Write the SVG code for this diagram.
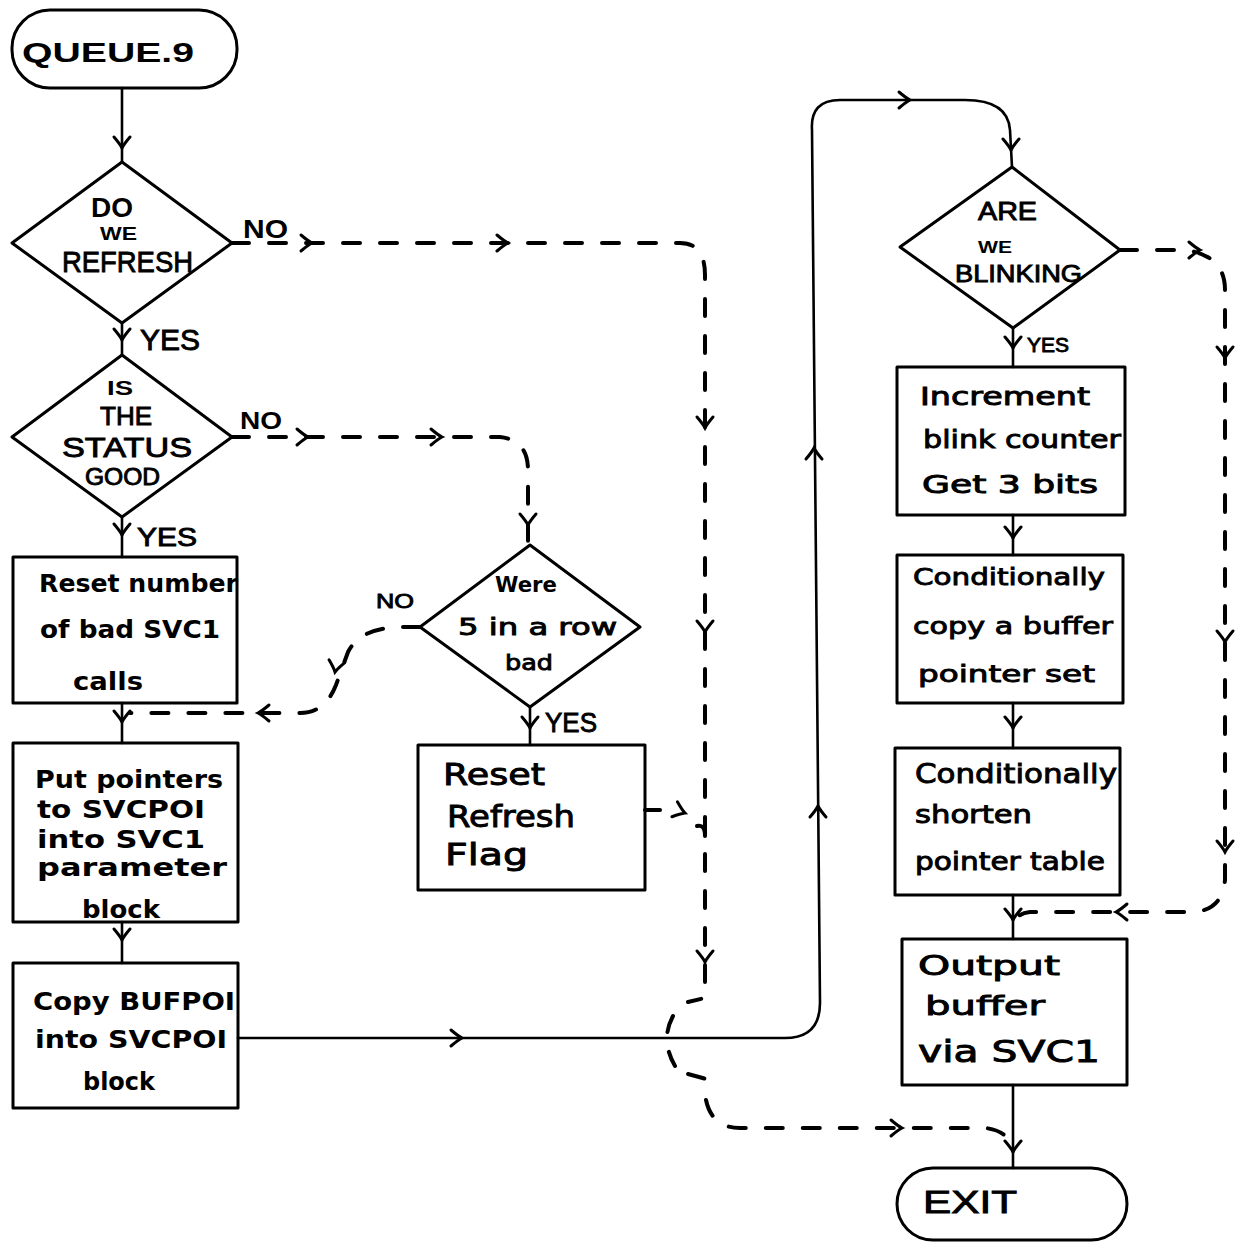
<svg xmlns="http://www.w3.org/2000/svg" xmlns:xlink="http://www.w3.org/1999/xlink" width="1238" height="1250" viewBox="0 0 1238 1250">
<style>
.shape{fill:none;stroke:#000;stroke-width:3;stroke-linejoin:round}
.solid{fill:none;stroke:#000;stroke-width:2.6;stroke-linecap:round}
.dash{fill:none;stroke:#000;stroke-width:4;stroke-dasharray:17 20;stroke-linecap:round}
.t{font-family:"Liberation Sans","DejaVu Sans",sans-serif;font-weight:bold;fill:#000}
.n{font-family:"Liberation Sans","DejaVu Sans",sans-serif;font-weight:normal;fill:#000;stroke:#000;stroke-width:0.9}
.h{font-family:"DejaVu Sans","Liberation Sans",sans-serif;font-weight:bold;fill:#000}
.hn{font-family:"DejaVu Sans","Liberation Sans",sans-serif;font-weight:normal;fill:#000;stroke:#000;stroke-width:0.9}
</style>
<defs>
<path id="ah" d="M-11,-8 Q-4,-2 0,0 Q-4,2 -11,8" fill="none" stroke="#000" stroke-width="3" stroke-linecap="round"/>
</defs>
<rect width="1238" height="1250" fill="#fff"/>

<g id="connectors">
  <!-- solid -->
  <path class="solid" d="M122,88 L122,162"/>
  <path class="solid" d="M122,323 L122,355"/>
  <path class="solid" d="M122,517 L122,557"/>
  <path class="solid" d="M122,703 L122,743"/>
  <path class="solid" d="M122,922 L122,963"/>
  <path class="solid" d="M238,1038 L785,1038 Q820,1038 820,1003 L812,130 Q810,100 840,100 L965,100 Q1008,100 1010,130 L1012,167"/>
  <path class="solid" d="M530,707 L530,745"/>
  <path class="solid" d="M1013,328 L1013,367"/>
  <path class="solid" d="M1013,515 L1013,555"/>
  <path class="solid" d="M1013,703 L1013,748"/>
  <path class="solid" d="M1013,895 L1013,939"/>
  <path class="solid" d="M1013,1085 L1013,1168"/>
  <!-- dashed -->
  <path class="dash" d="M232,243 L680,243 Q705,243 705,275 L705,998 L688,1002"/>
  <path class="dash" d="M673,1016 Q660,1040 675,1066"/>
  <path class="dash" stroke-dasharray="none" d="M688,1074 L706,1079 L706,1093"/>
  <path class="dash" d="M706,1100 Q712,1128 740,1128 L985,1128 Q1005,1130 1012,1145"/>
  <path class="dash" d="M232,437 L500,437 Q528,440 528,470 L528,543"/>
  <path class="dash" d="M420,627 L400,627 Q360,628 348,652 L336,685 Q325,713 300,713 L130,713"/>
  <path class="dash" stroke-dasharray="none" d="M645,810 L660,810"/>
  <path class="dash" stroke-dasharray="none" d="M697,826 Q705,824 705,836"/>
  <path class="dash" d="M1120,250 L1185,250 Q1225,255 1225,290 L1225,880 Q1222,912 1190,912 L1030,912 Q1018,913 1014,922"/>
  <!-- arrowheads -->
  <use xlink:href="#ah" transform="translate(122,148) rotate(90)"/>
  <use xlink:href="#ah" transform="translate(122,340) rotate(90)"/>
  <use xlink:href="#ah" transform="translate(122,535) rotate(90)"/>
  <use xlink:href="#ah" transform="translate(122,722) rotate(90)"/>
  <use xlink:href="#ah" transform="translate(122,940) rotate(90)"/>
  <use xlink:href="#ah" transform="translate(462,1038)"/>
  <use xlink:href="#ah" transform="translate(818,806) rotate(-90)"/>
  <use xlink:href="#ah" transform="translate(814,448) rotate(-90)"/>
  <use xlink:href="#ah" transform="translate(910,100)"/>
  <use xlink:href="#ah" transform="translate(1011,150) rotate(90)"/>
  <use xlink:href="#ah" transform="translate(530,728) rotate(90)"/>
  <use xlink:href="#ah" transform="translate(1013,348) rotate(90)"/>
  <use xlink:href="#ah" transform="translate(1013,538) rotate(90)"/>
  <use xlink:href="#ah" transform="translate(1013,728) rotate(90)"/>
  <use xlink:href="#ah" transform="translate(1013,920) rotate(90)"/>
  <use xlink:href="#ah" transform="translate(1013,1152) rotate(90)"/>
  <use xlink:href="#ah" transform="translate(312,243)"/>
  <use xlink:href="#ah" transform="translate(508,243)"/>
  <use xlink:href="#ah" transform="translate(705,428) rotate(90)"/>
  <use xlink:href="#ah" transform="translate(705,632) rotate(90)"/>
  <use xlink:href="#ah" transform="translate(705,962) rotate(90)"/>
  <use xlink:href="#ah" transform="translate(902,1128)"/>
  <use xlink:href="#ah" transform="translate(308,437)"/>
  <use xlink:href="#ah" transform="translate(442,437)"/>
  <use xlink:href="#ah" transform="translate(528,525) rotate(90)"/>
  <use xlink:href="#ah" transform="translate(335,672) rotate(100)"/>
  <use xlink:href="#ah" transform="translate(258,713) rotate(180)"/>
  <use xlink:href="#ah" transform="translate(685,813) rotate(20)"/>
  <use xlink:href="#ah" transform="translate(1200,250)"/>
  <use xlink:href="#ah" transform="translate(1225,358) rotate(90)"/>
  <use xlink:href="#ah" transform="translate(1225,642) rotate(90)"/>
  <use xlink:href="#ah" transform="translate(1225,852) rotate(90)"/>
  <use xlink:href="#ah" transform="translate(1116,912) rotate(180)"/>
  <!-- branch labels -->
  <text class="t" x="243" y="238" font-size="26" textLength="45" lengthAdjust="spacingAndGlyphs">NO</text>
  <text class="n" x="140" y="350" font-size="30" textLength="60" lengthAdjust="spacingAndGlyphs">YES</text>
  <text class="t" x="240" y="429" font-size="24" textLength="42" lengthAdjust="spacingAndGlyphs">NO</text>
  <text class="n" x="137" y="546" font-size="26" textLength="60" lengthAdjust="spacingAndGlyphs">YES</text>
  <text class="n" x="376" y="608" font-size="21" textLength="38" lengthAdjust="spacingAndGlyphs">NO</text>
  <text class="n" x="545" y="732" font-size="28" textLength="52" lengthAdjust="spacingAndGlyphs">YES</text>
  <text class="n" x="1027" y="352" font-size="21" textLength="42" lengthAdjust="spacingAndGlyphs">YES</text>
</g>

<g id="start">
  <rect class="shape" x="12" y="10" width="225" height="78" rx="38"/>
  <text class="t" x="22" y="62" font-size="27" textLength="172" lengthAdjust="spacingAndGlyphs">QUEUE.9</text>
</g>

<g id="d_refresh">
  <polygon class="shape" points="122,162 232,243 122,323 12,243"/>
  <text class="t" x="91" y="217" font-size="27" textLength="42" lengthAdjust="spacingAndGlyphs">DO</text>
  <text class="t" x="100" y="240" font-size="18" textLength="37" lengthAdjust="spacingAndGlyphs">WE</text>
  <text class="n" x="62" y="272" font-size="30" textLength="131" lengthAdjust="spacingAndGlyphs">REFRESH</text>
</g>

<g id="d_status">
  <polygon class="shape" points="122,355 232,437 122,517 12,437"/>
  <text class="t" x="107" y="395" font-size="21" textLength="26" lengthAdjust="spacingAndGlyphs">IS</text>
  <text class="n" x="100" y="425" font-size="25" textLength="52" lengthAdjust="spacingAndGlyphs">THE</text>
  <text class="n" x="62" y="457" font-size="28" textLength="130" lengthAdjust="spacingAndGlyphs">STATUS</text>
  <text class="n" x="85" y="485" font-size="23" textLength="75" lengthAdjust="spacingAndGlyphs">GOOD</text>
</g>

<g id="b_reset_num">
  <rect class="shape" x="13" y="557" width="224" height="146"/>
  <text class="h" x="39" y="592" font-size="24" textLength="199" lengthAdjust="spacingAndGlyphs">Reset number</text>
  <text class="h" x="40" y="638" font-size="24" textLength="180" lengthAdjust="spacingAndGlyphs">of bad SVC1</text>
  <text class="h" x="73" y="690" font-size="24" textLength="70" lengthAdjust="spacingAndGlyphs">calls</text>
</g>

<g id="b_put">
  <rect class="shape" x="13" y="743" width="225" height="179"/>
  <text class="h" x="35" y="788" font-size="24" textLength="188" lengthAdjust="spacingAndGlyphs">Put pointers</text>
  <text class="h" x="37" y="818" font-size="24" textLength="168" lengthAdjust="spacingAndGlyphs">to SVCPOI</text>
  <text class="h" x="37" y="848" font-size="24" textLength="168" lengthAdjust="spacingAndGlyphs">into SVC1</text>
  <text class="h" x="37" y="876" font-size="24" textLength="190" lengthAdjust="spacingAndGlyphs">parameter</text>
  <text class="h" x="82" y="918" font-size="24" textLength="78" lengthAdjust="spacingAndGlyphs">block</text>
</g>

<g id="b_copy">
  <rect class="shape" x="13" y="963" width="225" height="145"/>
  <text class="h" x="33" y="1010" font-size="24" textLength="202" lengthAdjust="spacingAndGlyphs">Copy BUFPOI</text>
  <text class="h" x="35" y="1048" font-size="24" textLength="192" lengthAdjust="spacingAndGlyphs">into SVCPOI</text>
  <text class="h" x="83" y="1090" font-size="24" textLength="72" lengthAdjust="spacingAndGlyphs">block</text>
</g>

<g id="d_five">
  <polygon class="shape" points="530,545 640,627 530,707 420,627"/>
  <text class="h" x="495" y="592" font-size="21" textLength="62" lengthAdjust="spacingAndGlyphs">Were</text>
  <text class="hn" x="458" y="635" font-size="23" textLength="159" lengthAdjust="spacingAndGlyphs">5 in a row</text>
  <text class="hn" x="505" y="670" font-size="22" textLength="48" lengthAdjust="spacingAndGlyphs">bad</text>
</g>

<g id="b_reset_flag">
  <rect class="shape" x="418" y="745" width="227" height="145"/>
  <text class="hn" x="443" y="785" font-size="30" textLength="102" lengthAdjust="spacingAndGlyphs">Reset</text>
  <text class="hn" x="447" y="827" font-size="30" textLength="128" lengthAdjust="spacingAndGlyphs">Refresh</text>
  <text class="hn" x="445" y="865" font-size="30" textLength="83" lengthAdjust="spacingAndGlyphs">Flag</text>
</g>

<g id="d_blink">
  <polygon class="shape" points="1012,167 1120,250 1013,328 900,247"/>
  <text class="n" x="978" y="220" font-size="25" textLength="59" lengthAdjust="spacingAndGlyphs">ARE</text>
  <text class="t" x="978" y="253" font-size="16" textLength="34" lengthAdjust="spacingAndGlyphs">WE</text>
  <text class="n" x="955" y="282" font-size="24" textLength="127" lengthAdjust="spacingAndGlyphs">BLINKING</text>
</g>

<g id="b_increment">
  <rect class="shape" x="897" y="367" width="228" height="148"/>
  <text class="hn" x="920" y="405" font-size="24" textLength="170" lengthAdjust="spacingAndGlyphs">Increment</text>
  <text class="hn" x="923" y="448" font-size="24" textLength="198" lengthAdjust="spacingAndGlyphs">blink counter</text>
  <text class="hn" x="922" y="493" font-size="24" textLength="176" lengthAdjust="spacingAndGlyphs">Get  3 bits</text>
</g>

<g id="b_copy_buf">
  <rect class="shape" x="897" y="555" width="226" height="148"/>
  <text class="hn" x="913" y="585" font-size="23" textLength="192" lengthAdjust="spacingAndGlyphs">Conditionally</text>
  <text class="hn" x="913" y="634" font-size="23" textLength="200" lengthAdjust="spacingAndGlyphs">copy a buffer</text>
  <text class="hn" x="918" y="682" font-size="23" textLength="177" lengthAdjust="spacingAndGlyphs">pointer set</text>
</g>

<g id="b_shorten">
  <rect class="shape" x="895" y="748" width="225" height="147"/>
  <text class="hn" x="915" y="783" font-size="26" textLength="202" lengthAdjust="spacingAndGlyphs">Conditionally</text>
  <text class="hn" x="915" y="823" font-size="24" textLength="117" lengthAdjust="spacingAndGlyphs">shorten</text>
  <text class="hn" x="915" y="870" font-size="24" textLength="190" lengthAdjust="spacingAndGlyphs">pointer table</text>
</g>

<g id="b_output">
  <rect class="shape" x="902" y="939" width="225" height="146"/>
  <text class="hn" x="918" y="975" font-size="27" textLength="142" lengthAdjust="spacingAndGlyphs">Output</text>
  <text class="hn" x="925" y="1015" font-size="27" textLength="120" lengthAdjust="spacingAndGlyphs">buffer</text>
  <text class="hn" x="918" y="1062" font-size="30" textLength="182" lengthAdjust="spacingAndGlyphs">via  SVC1</text>
</g>

<g id="exit">
  <rect class="shape" x="897" y="1168" width="230" height="72" rx="36"/>
  <text class="n" x="923" y="1213" font-size="31" textLength="94" lengthAdjust="spacingAndGlyphs">EXIT</text>
</g>
</svg>
